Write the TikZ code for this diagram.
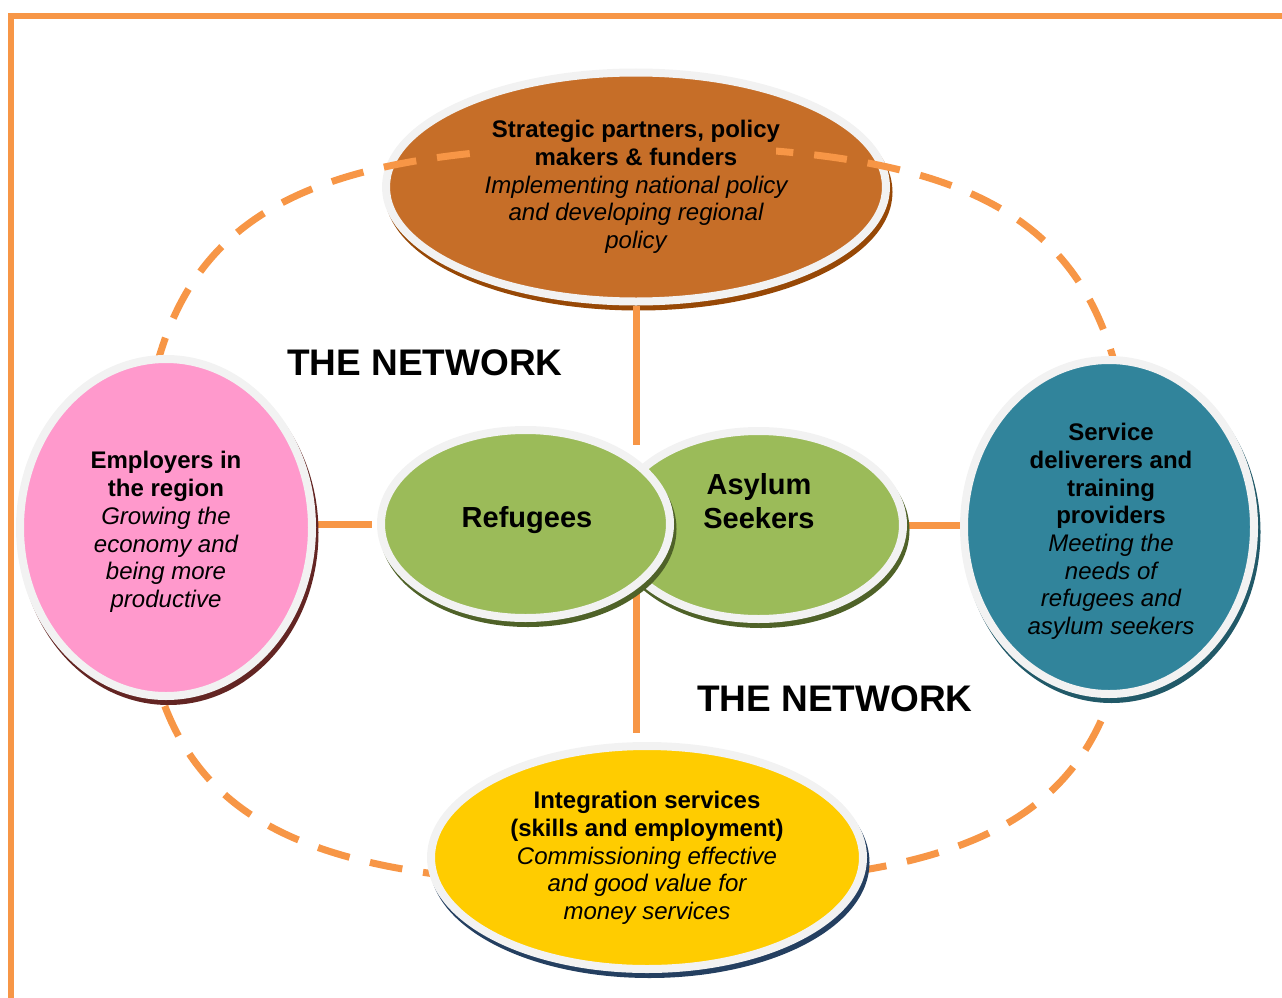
\documentclass[tikz,border=0pt]{standalone}
\usepackage{fontspec}
\setmainfont{Liberation Sans}
\usetikzlibrary{shapes.geometric}
\definecolor{netorange}{HTML}{F79646}
\definecolor{rimgray}{HTML}{F2F2F2}
\definecolor{brownfill}{HTML}{C66E28}
\definecolor{brownshadow}{HTML}{974806}
\definecolor{pinkfill}{HTML}{FF99CC}
\definecolor{pinkshadow}{HTML}{632523}
\definecolor{greenfill}{HTML}{9BBB59}
\definecolor{greenshadow}{HTML}{4F6228}
\definecolor{tealfill}{HTML}{31849B}
\definecolor{tealshadow}{HTML}{215968}
\definecolor{yellowfill}{HTML}{FFCC00}
\definecolor{yellowshadow}{HTML}{243F60}
\pgfdeclarelayer{back}
\pgfdeclarelayer{mid}
\pgfsetlayers{back,mid,main}
\begin{document}
\begin{tikzpicture}[x=1pt,y=-1pt,
  bubble/.style 2 args={ellipse, draw=rimgray, fill=#1, line width=8pt, inner sep=0pt,
    preaction={draw=#2, fill=#2, transform canvas={shift={(2.5pt,-5pt)}}}},
  bubbletext/.style={align=center, inner sep=0pt, font=\fontsize{24}{27.7}\selectfont},
  link/.style={draw=netorange, line width=7pt},
  dashring/.style={draw=netorange, line width=7pt, dash pattern=on 33pt off 21pt},
  frame/.style={draw=netorange, line width=5.5pt},
  bigtitle/.style={font=\fontsize{37}{42}\selectfont\bfseries, anchor=base},
  pairtext/.style={font=\fontsize{29}{34}\selectfont\bfseries, align=center}
]
\useasboundingbox (0,0) rectangle (1282,998);
\draw[frame] (1282,16) -- (11,16) -- (11,998);

\begin{pgfonlayer}{back}
\node[bubble={brownfill}{brownshadow}, minimum width=500pt, minimum height=229pt] (top) at (636,187) {};
\end{pgfonlayer}

\node[bubble={pinkfill}{pinkshadow}, minimum width=292pt, minimum height=337pt] (pink) at (166,527.5) {};
\node[bubble={tealfill}{tealshadow}, minimum width=290pt, minimum height=334pt] (teal) at (1109,527) {};
\node[bubble={yellowfill}{yellowshadow}, minimum width=432pt, minimum height=223pt] (yel) at (647,857.5) {};
\node[bubble={greenfill}{greenshadow}, minimum width=289pt, minimum height=188pt] (asy) at (758.5,525) {};
\node[bubble={greenfill}{greenshadow}, minimum width=289pt, minimum height=188pt] (ref) at (525.5,524) {};

\node[bubbletext] (toptext) at (636,187)
  {\bfseries Strategic partners, policy\\\bfseries makers \& funders\\
   \normalfont\itshape Implementing national policy\\\itshape and developing regional\\\itshape policy};
\node[bubbletext] (pinktext) at (166,532)
  {\bfseries Employers in\\\bfseries the region\\
   \normalfont\itshape Growing the\\\itshape economy and\\\itshape being more\\\itshape productive};
\node[bubbletext] (tealtext) at (1111,531.5)
  {\bfseries Service\\\bfseries deliverers and\\\bfseries training\\\bfseries providers\\
   \normalfont\itshape Meeting the\\\itshape needs of\\\itshape refugees and\\\itshape asylum seekers};
\node[bubbletext] (yeltext) at (647,858)
  {\bfseries Integration services\\\bfseries (skills and employment)\\
   \normalfont\itshape Commissioning effective\\\itshape and good value for\\\itshape money services};
\node[pairtext] (asytext) at (759,501) {Asylum\\Seekers};
\node[pairtext] (reftext) at (527,520) {Refugees};

\node[bigtitle] (net1) at (425,375) {THE NETWORK};
\node[bigtitle] (net2) at (835,711) {THE NETWORK};

\coordinate (ctop) at (636,445);
\coordinate (cbot) at (636,733);
\coordinate (cleft) at (372,524);

\begin{pgfonlayer}{mid}
\draw[dashring] (139,530) .. controls (139,234.3) and (253.3,146) .. (636,146)
  .. controls (1018.7,146) and (1133,234.3) .. (1133,530)
  .. controls (1133,803.4) and (1018.7,885) .. (636,885)
  .. controls (253.3,885) and (139,803.4) .. cycle;
\fill[brownfill] (485,136) rectangle (776,166);
\draw[link] (top.south) -- (ctop);
\draw[link] (cbot |- ref.center) -- (cbot);
\draw[link] (pink.center |- cleft) -- (cleft);
\draw[link] (asy.center) -- (asy.center -| teal.center);
\end{pgfonlayer}
\end{tikzpicture}
\end{document}
